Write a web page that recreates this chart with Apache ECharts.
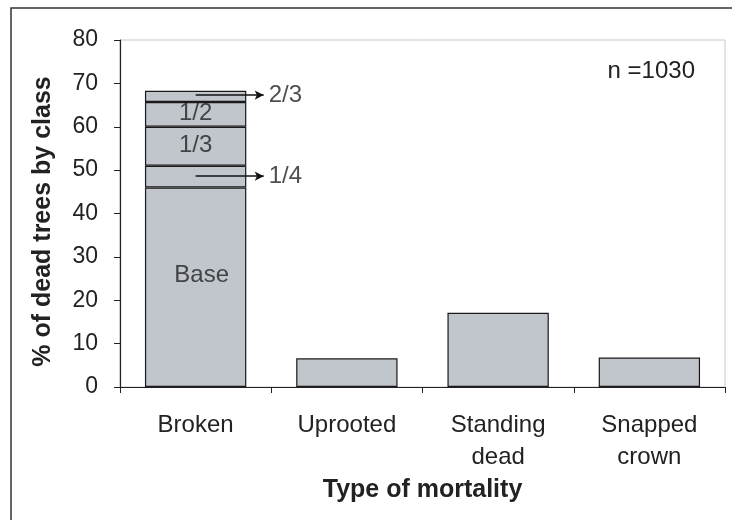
<!DOCTYPE html>
<html>
<head>
<meta charset="utf-8">
<script src="https://cdn.jsdelivr.net/npm/echarts@6/dist/echarts.min.js"></script>
<style>
  html, body { margin: 0; padding: 0; background: #fff; }
  #main { width: 732px; height: 520px; }
</style>
</head>
<body>
<div id="main"></div>
<script>
// data
const categories = ['Broken', 'Uprooted', 'Standing\ndead', 'Snapped\ncrown'];
const yTicks = [0, 10, 20, 30, 40, 50, 60, 70, 80];
const baseVals = [46, 6.6, 17.1, 6.8];
const quarterVals = [5, '-', '-', '-'];      // 1/4 class
const thirdVals = [9, '-', '-', '-'];        // 1/3 class
const halfVals = [5.7, '-', '-', '-'];       // 1/2 class
const twoThirdVals = [2.6, '-', '-', '-'];   // 2/3 class
// labels inside the Broken bar: [text, x (category units), y (%)]
const insideLabels = [['1/2', 0.5, 63], ['1/3', 0.5, 55.6], ['Base', 0.54, 25.8]];
// arrowed labels: [text, y (%)]
const arrowLabels = [['2/3', 67.3], ['1/4', 48.6]];
const nLabel = 'n =1030';

const font = 'Liberation Sans, Arial, sans-serif';
const barStyle = { color: '#c1c5cc', borderColor: '#1a1a1a', borderWidth: 1.2 };

let myChart = echarts.init(document.getElementById('main'));

function seg(name, data) {
  return {
    name: name,
    type: 'bar',
    stack: 'all',
    barWidth: '67%',
    data: data,
    itemStyle: barStyle
  };
}

let option = {
  animation: false,
  backgroundColor: '#fff',
  textStyle: { fontFamily: font, color: '#222' },
  grid: {
    left: 120, right: 7, top: 40, bottom: 133,
    show: true, borderColor: '#c8c8c8', borderWidth: 1
  },
  graphic: [
    {
      type: 'rect',
      shape: { x: 11, y: 8, width: 760, height: 540 },
      style: { fill: 'none', stroke: '#333', lineWidth: 1.5 },
      z: -1
    },
    {
      type: 'text',
      right: 37, top: 59,
      style: { text: nLabel, font: '24px ' + font, fill: '#222' }
    }
  ],
  xAxis: [
    {
      type: 'category',
      data: categories,
      axisLine: { lineStyle: { color: '#222', width: 1.2 } },
      axisTick: { show: true, length: 6, lineStyle: { color: '#222' } },
      axisLabel: { fontSize: 24, lineHeight: 32, margin: 22, color: '#222', fontFamily: font },
      name: 'Type of mortality',
      nameLocation: 'middle',
      nameGap: 84,
      nameTextStyle: { fontSize: 25, fontWeight: 'bold', color: '#222', fontFamily: font }
    },
    {
      type: 'value',
      min: 0, max: 4,
      show: false
    }
  ],
  yAxis: {
    type: 'value',
    min: yTicks[0],
    max: yTicks[yTicks.length - 1],
    interval: 10,
    splitLine: { show: false },
    axisLine: { show: true, lineStyle: { color: '#222', width: 1.2 } },
    axisTick: { show: true, length: 6, lineStyle: { color: '#222' } },
    axisLabel: { fontSize: 23, margin: 22, color: '#222', fontFamily: font },
    name: '% of dead trees by class',
    nameLocation: 'middle',
    nameGap: 64,
    nameRotate: 90,
    nameTextStyle: { fontSize: 25, fontWeight: 'bold', color: '#222', fontFamily: font, padding: [0, 16, 0, 0] }
  },
  series: [
    seg('Base', baseVals),
    seg('1/4', quarterVals),
    seg('1/3', thirdVals),
    seg('1/2', halfVals),
    seg('2/3', twoThirdVals),
    {
      type: 'scatter',
      xAxisIndex: 1,
      symbolSize: 0,
      silent: true,
      data: insideLabels.map(d => [d[1], d[2], d[0]]),
      label: {
        show: true,
        position: 'inside',
        formatter: p => p.value[2],
        fontSize: 24,
        color: '#222',
        fontFamily: font
      }
    },
    {
      type: 'scatter',
      xAxisIndex: 1,
      symbolSize: 0,
      silent: true,
      data: arrowLabels.map(d => [0.97, d[1], d[0]]),
      label: {
        show: true,
        position: 'right',
        distance: 2,
        formatter: p => p.value[2],
        fontSize: 24,
        color: '#222',
        fontFamily: font
      },
      markLine: {
        silent: true,
        symbol: ['none', 'arrow'],
        symbolSize: [7, 9],
        label: { show: false },
        lineStyle: { color: '#111', width: 1.5, type: 'solid' },
        data: arrowLabels.map(d => [{ coord: [0.5, d[1]] }, { coord: [0.95, d[1]] }])
      }
    }
  ]
};
myChart.setOption(option);
</script>
</body>
</html>
